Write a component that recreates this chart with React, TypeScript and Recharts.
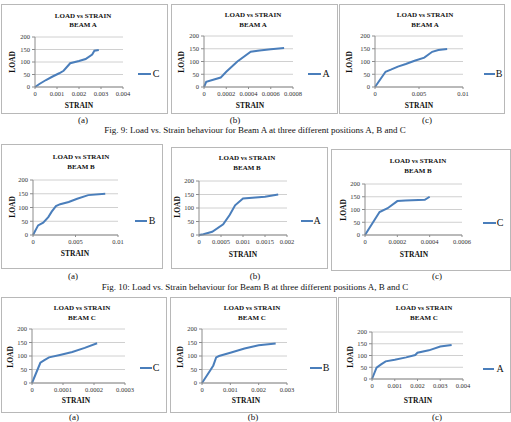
import React from 'react';
import { LineChart, Line, XAxis, YAxis, CartesianGrid } from 'recharts';

const FONT = '"Liberation Serif", "Times New Roman", Times, serif';
const BLUE = '#4A7EBB';

const loadTicks = [0, 50, 100, 150, 200];
const chartTitle = 'LOAD vs STRAIN';
const xLabel = 'STRAIN';
const yLabel = 'LOAD';

// Fig. 9 – Beam A
const beamA_C_strain = [0, 0.0002, 0.0005, 0.0008, 0.0011, 0.0013, 0.0016, 0.002, 0.0023, 0.0026, 0.0027, 0.0029];
const beamA_C_load = [0, 12, 28, 42, 55, 65, 95, 104, 112, 130, 145, 148];
const beamA_C_ticks = [0, 0.001, 0.002, 0.003, 0.004];

const beamA_A_strain = [0, 0.00002, 0.00015, 0.0002, 0.0003, 0.00042, 0.0005, 0.0006, 0.00072];
const beamA_A_load = [0, 20, 37, 60, 100, 138, 143, 148, 153];
const beamA_A_ticks = [0, 0.0002, 0.0004, 0.0006, 0.0008];

const beamA_B_strain = [0, 0.0012, 0.0018, 0.0026, 0.0035, 0.0045, 0.0056, 0.0065, 0.0072, 0.0082];
const beamA_B_load = [0, 60, 68, 80, 90, 103, 115, 138, 145, 149];
const beamA_B_ticks = [0, 0.005, 0.01];

// Fig. 10 – Beam B
const beamB_B_strain = [0, 0.0006, 0.0012, 0.0018, 0.0022, 0.0027, 0.0032, 0.0042, 0.0052, 0.0065, 0.0085];
const beamB_B_load = [0, 35, 45, 65, 85, 105, 112, 120, 132, 145, 150];
const beamB_B_ticks = [0, 0.005, 0.01];

const beamB_A_strain = [0, 0.0001, 0.0003, 0.00055, 0.0007, 0.00082, 0.001, 0.0015, 0.0018];
const beamB_A_load = [0, 3, 12, 40, 75, 110, 135, 142, 150];
const beamB_A_ticks = [0, 0.0005, 0.001, 0.0015, 0.002];

const beamB_C_strain = [0, 0.00009, 0.00014, 0.0002, 0.00025, 0.00037, 0.0004];
const beamB_C_load = [0, 90, 105, 133, 135, 138, 150];
const beamB_C_ticks = [0, 0.0002, 0.0004, 0.0006];

// Beam C
const beamC_C_strain = [0, 0.000027, 0.00004, 0.000055, 0.00009, 0.00013, 0.00017, 0.00021];
const beamC_C_load = [0, 75, 85, 95, 104, 115, 130, 147];
const beamC_C_ticks = [0, 0.0001, 0.0002, 0.0003];

const beamC_B_strain = [0, 0.0003, 0.0004, 0.0005, 0.0006, 0.001, 0.0015, 0.002, 0.0026];
const beamC_B_load = [0, 48, 65, 95, 100, 112, 128, 140, 146];
const beamC_B_ticks = [0, 0.001, 0.002, 0.003];

const beamC_A_strain = [0, 0.0002, 0.0004, 0.0006, 0.001, 0.0015, 0.0019, 0.002, 0.0025, 0.003, 0.0035];
const beamC_A_load = [0, 48, 62, 75, 82, 92, 102, 112, 122, 138, 145];
const beamC_A_ticks = [0, 0.001, 0.002, 0.003, 0.004];

const fig9Caption = 'Fig. 9: Load vs. Strain behaviour for Beam A at three different positions A, B and C';
const fig10Caption = 'Fig. 10: Load vs. Strain behaviour for Beam B at three different positions A, B and C';
const subCaptions = ['(a)', '(b)', '(c)'];

const zip = (s: number[], l: number[]) => s.map((v, i) => ({ strain: v, load: l[i] }));

type Cfg = {
  beam: string;
  series: string;
  data: { strain: number; load: number }[];
  ticks: number[];
  box: { x: number; y: number; w: number; h: number };
  plot: { x0: number; x1: number; yTop: number; y0: number };
  title: { x: number; y1: number; y2: number };
  strainPos: [number, number];
  loadPos: [number, number];
  legend: { x1: number; x2: number; tx: number; y: number };
};

const panels: Cfg[] = [
  {
    beam: 'BEAM A', series: 'C', data: zip(beamA_C_strain, beamA_C_load), ticks: beamA_C_ticks,
    box: { x: 1, y: 4, w: 166, h: 109 }, plot: { x0: 35, x1: 123, yTop: 37, y0: 87 },
    title: { x: 83, y1: 16, y2: 25 }, strainPos: [79, 106], loadPos: [13, 62],
    legend: { x1: 138, x2: 151, tx: 156, y: 74 },
  },
  {
    beam: 'BEAM A', series: 'A', data: zip(beamA_A_strain, beamA_A_load), ticks: beamA_A_ticks,
    box: { x: 171, y: 4, w: 166, h: 109 }, plot: { x0: 204, x1: 293, yTop: 36, y0: 87 },
    title: { x: 253, y1: 15, y2: 25 }, strainPos: [250, 106], loadPos: [182, 62],
    legend: { x1: 308, x2: 321, tx: 326, y: 74 },
  },
  {
    beam: 'BEAM A', series: 'B', data: zip(beamA_B_strain, beamA_B_load), ticks: beamA_B_ticks,
    box: { x: 339, y: 4, w: 165, h: 109 }, plot: { x0: 375, x1: 463, yTop: 36, y0: 87 },
    title: { x: 425, y1: 15, y2: 25 }, strainPos: [419, 106], loadPos: [350, 62],
    legend: { x1: 484, x2: 495, tx: 499, y: 74 },
  },
  {
    beam: 'BEAM B', series: 'B', data: zip(beamB_B_strain, beamB_B_load), ticks: beamB_B_ticks,
    box: { x: 1, y: 144, w: 161, h: 124 }, plot: { x0: 33, x1: 118, yTop: 180, y0: 235 },
    title: { x: 81, y1: 157, y2: 167 }, strainPos: [75, 254], loadPos: [13, 207],
    legend: { x1: 135, x2: 147, tx: 152, y: 221 },
  },
  {
    beam: 'BEAM B', series: 'A', data: zip(beamB_A_strain, beamB_A_load), ticks: beamB_A_ticks,
    box: { x: 171, y: 147, w: 156, h: 121 }, plot: { x0: 199, x1: 287, yTop: 181, y0: 235 },
    title: { x: 247, y1: 158, y2: 168 }, strainPos: [243, 255], loadPos: [178, 207],
    legend: { x1: 301, x2: 313, tx: 317, y: 221 },
  },
  {
    beam: 'BEAM B', series: 'C', data: zip(beamB_C_strain, beamB_C_load), ticks: beamB_C_ticks,
    box: { x: 331, y: 149, w: 179, h: 121 }, plot: { x0: 365, x1: 462, yTop: 184, y0: 235 },
    title: { x: 418, y1: 161, y2: 171 }, strainPos: [414, 255], loadPos: [344, 210],
    legend: { x1: 483, x2: 496, tx: 500, y: 223 },
  },
  {
    beam: 'BEAM C', series: 'C', data: zip(beamC_C_strain, beamC_C_load), ticks: beamC_C_ticks,
    box: { x: 1, y: 297, w: 165, h: 115 }, plot: { x0: 32, x1: 125, yTop: 329, y0: 383 },
    title: { x: 82, y1: 308, y2: 318 }, strainPos: [76, 401], loadPos: [11, 357],
    legend: { x1: 140, x2: 152, tx: 156, y: 368 },
  },
  {
    beam: 'BEAM C', series: 'B', data: zip(beamC_B_strain, beamC_B_load), ticks: beamC_B_ticks,
    box: { x: 170, y: 297, w: 166, h: 115 }, plot: { x0: 202, x1: 287, yTop: 329, y0: 383 },
    title: { x: 252, y1: 308, y2: 318 }, strainPos: [246, 401], loadPos: [181, 357],
    legend: { x1: 310, x2: 322, tx: 326, y: 368 },
  },
  {
    beam: 'BEAM C', series: 'A', data: zip(beamC_A_strain, beamC_A_load), ticks: beamC_A_ticks,
    box: { x: 338, y: 297, w: 172, h: 115 }, plot: { x0: 372, x1: 463, yTop: 332, y0: 379 },
    title: { x: 424, y1: 308, y2: 318 }, strainPos: [418, 401], loadPos: [351, 357],
    legend: { x1: 483, x2: 494, tx: 500, y: 369 },
  },
];

const Txt = ({ x, y, size, bold, rotate, children }: any) => (
  <div
    style={{
      position: 'absolute', left: x, top: y,
      transform: `translate(-50%, -50%)${rotate ? ' rotate(-90deg)' : ''}`,
      fontSize: size, fontWeight: bold ? 700 : 400, fontFamily: FONT,
      whiteSpace: 'nowrap', lineHeight: 1, color: '#111',
    }}
  >
    {children}
  </div>
);

const YW = 24;
const XH = 14;

function Panel({ cfg }: { cfg: Cfg }) {
  const { box, plot } = cfg;
  const margin = {
    left: plot.x0 - box.x - YW,
    right: box.x + box.w - plot.x1,
    top: plot.yTop - box.y,
    bottom: box.y + box.h - plot.y0 - XH,
  };
  const tickStyle = { fontSize: 6.5, fontFamily: FONT, fill: '#333' };
  return (
    <>
      <div style={{ position: 'absolute', left: box.x, top: box.y, width: box.w - 1, height: box.h - 1, border: '1px solid #b8b8b8', boxSizing: 'content-box', background: '#fff' }} />
      <div style={{ position: 'absolute', left: box.x, top: box.y }}>
        <LineChart width={box.w} height={box.h} data={cfg.data} margin={margin}>
          <CartesianGrid vertical={false} stroke="#c4c4c4" strokeWidth={0.8} />
          <XAxis
            dataKey="strain" type="number" domain={[cfg.ticks[0], cfg.ticks[cfg.ticks.length - 1]]}
            ticks={cfg.ticks} interval={0} height={XH} tick={tickStyle}
            tickSize={2} tickMargin={2} stroke="#8c8c8c" tickFormatter={(v: number) => String(v)}
          />
          <YAxis
            type="number" domain={[0, 200]} ticks={loadTicks} interval={0} width={YW}
            tick={tickStyle} tickSize={3} tickMargin={2} stroke="#8c8c8c"
          />
          <Line
            type="linear" dataKey="load" name={cfg.series} stroke={BLUE} strokeWidth={2}
            dot={false} isAnimationActive={false}
          />
        </LineChart>
      </div>
      <Txt x={cfg.title.x} y={cfg.title.y1} size={7} bold>{chartTitle}</Txt>
      <Txt x={cfg.title.x} y={cfg.title.y2} size={7} bold>{cfg.beam}</Txt>
      <Txt x={cfg.strainPos[0]} y={cfg.strainPos[1]} size={7.5} bold>{xLabel}</Txt>
      <Txt x={cfg.loadPos[0]} y={cfg.loadPos[1]} size={7.5} bold rotate>{yLabel}</Txt>
      <div style={{ position: 'absolute', left: cfg.legend.x1, top: cfg.legend.y - 1, width: cfg.legend.x2 - cfg.legend.x1, height: 2, background: BLUE }} />
      <Txt x={cfg.legend.tx} y={cfg.legend.y} size={10}>{cfg.series}</Txt>
    </>
  );
}

export default function App() {
  const capRow1 = [83, 235, 427];
  const capRow2 = [73, 255, 437];
  const capRow3 = [74, 253, 437];
  return (
    <div style={{ position: 'absolute', left: 0, top: 0, width: 511, height: 422, background: '#fff', overflow: 'hidden' }}>
      {panels.map((p, i) => <Panel key={i} cfg={p} />)}
      {subCaptions.map((c, i) => <Txt key={'r1' + i} x={capRow1[i]} y={120} size={9}>{c}</Txt>)}
      <Txt x={255} y={130} size={9}>{fig9Caption}</Txt>
      {subCaptions.map((c, i) => <Txt key={'r2' + i} x={capRow2[i]} y={276} size={9}>{c}</Txt>)}
      <Txt x={255} y={287} size={9}>{fig10Caption}</Txt>
      {subCaptions.map((c, i) => <Txt key={'r3' + i} x={capRow3[i]} y={417} size={9}>{c}</Txt>)}
    </div>
  );
}
